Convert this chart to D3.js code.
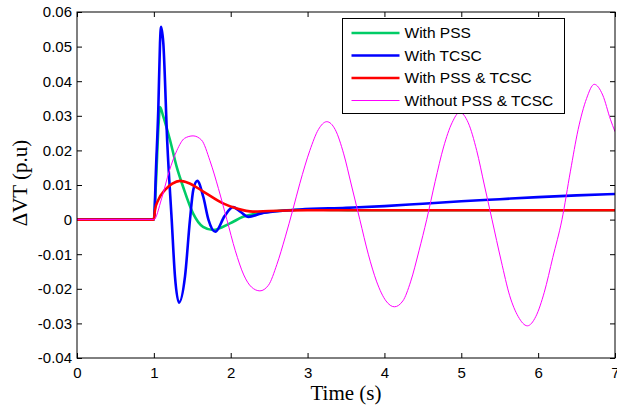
<!DOCTYPE html>
<html>
<head>
<meta charset="utf-8">
<script src="https://cdn.jsdelivr.net/npm/d3@7"></script>
<style>
  html, body { margin: 0; padding: 0; background: #fff; }
  svg { display: block; }
</style>
</head>
<body>
<svg id="chart" width="617" height="407"></svg>
<script>
// time (s) / deltaVT (p.u) samples
const pssT   = [0, 1.0, 1.03, 1.06, 1.08, 1.12, 1.21, 1.3, 1.38, 1.51, 1.64, 1.77, 1.99, 2.16, 2.35, 2.51, 2.73, 3.0, 3.3, 3.6, 4.0, 5.0, 6.0, 7.0];
const pssV   = [0, 0, 0.012, 0.027, 0.0325, 0.030, 0.023, 0.015, 0.0095, 0.0018, -0.0021, -0.003, -0.0011, 0.0008, 0.0018, 0.0023, 0.0027, 0.0029, 0.0028, 0.0027, 0.0027, 0.0027, 0.0027, 0.0027];

const tcscT  = [0, 1.0, 1.03, 1.058, 1.08, 1.093, 1.123, 1.175, 1.232, 1.275, 1.327, 1.405, 1.47, 1.513, 1.565, 1.643, 1.71, 1.80, 1.92, 2.03, 2.13, 2.23, 2.4, 2.6, 2.9, 3.5, 4.0, 4.5, 5.0, 5.5, 6.0, 6.5, 7.0];
const tcscV  = [0, 0, 0.016, 0.032, 0.051, 0.0557, 0.051, 0.022, 0, -0.0165, -0.024, -0.0165, 0, 0.0086, 0.0112, 0.0066, 0, -0.0035, 0.001, 0.0036, 0.0022, 0.0008, 0.0018, 0.0024, 0.0029, 0.0034, 0.0039, 0.0046, 0.0053, 0.0059, 0.0065, 0.007, 0.0074];

const bothT  = [0, 1.0, 1.015, 1.058, 1.145, 1.24, 1.34, 1.45, 1.643, 1.9, 2.08, 2.29, 2.5, 3.0, 4.0, 5.0, 6.0, 7.0];
const bothV  = [0, 0, 0.0028, 0.0057, 0.0086, 0.0104, 0.0112, 0.0106, 0.0081, 0.0047, 0.0032, 0.0023, 0.0025, 0.0027, 0.0027, 0.0027, 0.0027, 0.0027];

const noneT  = [0, 1.0, 1.1, 1.2, 1.3, 1.4, 1.51, 1.62, 1.73, 1.84, 1.95, 2.06, 2.17, 2.27, 2.38, 2.49, 2.6, 2.71, 2.81, 2.9, 3.03, 3.14, 3.25, 3.36, 3.47, 3.57, 3.68, 3.79, 3.9, 4.02, 4.13, 4.24, 4.34, 4.45, 4.55, 4.66, 4.77, 4.88, 4.98, 5.09, 5.2, 5.3, 5.4, 5.52, 5.63, 5.74, 5.86, 5.97, 6.08, 6.19, 6.31, 6.42, 6.52, 6.63, 6.73, 6.84, 6.94, 7.0];
const noneV  = [0, 0, 0.006, 0.014, 0.020, 0.0235, 0.0242, 0.023, 0.017, 0.009, 0, -0.009, -0.016, -0.0195, -0.0206, -0.019, -0.013, -0.005, 0.003, 0.0105, 0.020, 0.026, 0.0283, 0.026, 0.019, 0.010, 0, -0.010, -0.018, -0.0235, -0.0252, -0.0235, -0.018, -0.009, 0, 0.011, 0.021, 0.028, 0.031, 0.028, 0.020, 0.010, 0, -0.012, -0.022, -0.028, -0.0307, -0.028, -0.021, -0.011, 0, 0.014, 0.026, 0.035, 0.0391, 0.036, 0.029, 0.0254];

const seriesNames = ['With PSS', 'With TCSC', 'With PSS & TCSC', 'Without PSS & TCSC'];
const xTicks = [0, 1, 2, 3, 4, 5, 6, 7];
const yTicks = [0.06, 0.05, 0.04, 0.03, 0.02, 0.01, 0, -0.01, -0.02, -0.03, -0.04];

const SERIES = [
  { name: seriesNames[0], t: pssT,  v: pssV,  color: '#00cc66', width: 2.6 },
  { name: seriesNames[1], t: tcscT, v: tcscV, color: '#0000ff', width: 2.6 },
  { name: seriesNames[2], t: bothT, v: bothV, color: '#ff0000', width: 2.6 },
  { name: seriesNames[3], t: noneT, v: noneV, color: '#ff00ff', width: 1 },
];

const svg = d3.select('#chart');
const box = { left: 77, top: 12, right: 615, bottom: 358 };
const SANS = '"Liberation Sans", Arial, sans-serif';
const SERIF = '"Liberation Serif", "Times New Roman", serif';

const x = d3.scaleLinear().domain([0, 7]).range([box.left, box.right]);
const y = d3.scaleLinear().domain([-0.04, 0.06]).range([box.bottom, box.top]);

const fmtY = d => d === 0 ? '0' : d3.format('.2f')(d).replace('−', '-');

function styleAxis(axis, showText) {
  axis.selectAll('path').remove();
  axis.selectAll('line').attr('stroke', '#000').attr('stroke-width', 1);
  axis.selectAll('text').attr('fill', '#000').attr('font-size', 15).attr('font-family', SANS);
  if (!showText) axis.selectAll('text').remove();
}

svg.append('g')
  .attr('transform', `translate(${box.left},0)`)
  .call(d3.axisLeft(y).tickValues(yTicks).tickSizeInner(-5).tickSizeOuter(0).tickPadding(5).tickFormat(fmtY))
  .call(a => styleAxis(a, true));
svg.append('g')
  .attr('transform', `translate(${box.right},0)`)
  .call(d3.axisRight(y).tickValues(yTicks).tickSizeInner(-5).tickSizeOuter(0))
  .call(a => styleAxis(a, false));
svg.append('g')
  .attr('transform', `translate(0,${box.bottom})`)
  .call(d3.axisBottom(x).tickValues(xTicks).tickSizeInner(-5).tickSizeOuter(0).tickPadding(9).tickFormat(d3.format('d')))
  .call(a => styleAxis(a, true));
svg.append('g')
  .attr('transform', `translate(0,${box.top})`)
  .call(d3.axisTop(x).tickValues(xTicks).tickSizeInner(-5).tickSizeOuter(0))
  .call(a => styleAxis(a, false));

svg.append('defs').append('clipPath').attr('id', 'plot-clip')
  .append('rect')
  .attr('x', box.left).attr('y', box.top)
  .attr('width', box.right - box.left).attr('height', box.bottom - box.top);

const line = d3.line()
  .x(d => x(d[0]))
  .y(d => y(d[1]))
  .curve(d3.curveMonotoneX);

const plot = svg.append('g').attr('clip-path', 'url(#plot-clip)');
SERIES.forEach(s => {
  plot.append('path')
    .datum(s.t.map((t, i) => [t, s.v[i]]))
    .attr('fill', 'none')
    .attr('stroke', s.color)
    .attr('stroke-width', s.width)
    .attr('stroke-linejoin', 'round')
    .attr('d', line);
});

// frame
svg.append('rect')
  .attr('x', box.left).attr('y', box.top)
  .attr('width', box.right - box.left).attr('height', box.bottom - box.top)
  .attr('fill', 'none').attr('stroke', '#000').attr('stroke-width', 1);

// legend
const legend = svg.append('g').attr('transform', 'translate(342.5,18.5)');
legend.append('rect')
  .attr('width', 222).attr('height', 95)
  .attr('fill', '#fff').attr('stroke', '#000').attr('stroke-width', 1);
SERIES.forEach((s, i) => {
  const ly = 14.5 + i * 22.5;
  legend.append('line')
    .attr('x1', 9).attr('x2', 57).attr('y1', ly).attr('y2', ly)
    .attr('stroke', s.color).attr('stroke-width', s.width);
  legend.append('text')
    .attr('x', 62).attr('y', ly).attr('dy', '0.35em')
    .attr('font-family', SANS).attr('font-size', 15.5).attr('fill', '#000')
    .text(s.name);
});

// axis titles
svg.append('text')
  .attr('x', (box.left + box.right) / 2).attr('y', 400)
  .attr('text-anchor', 'middle')
  .attr('font-family', SERIF).attr('font-size', 21).attr('fill', '#000')
  .text('Time (s)');
svg.append('text')
  .attr('transform', 'translate(27,183) rotate(-90)')
  .attr('text-anchor', 'middle')
  .attr('font-family', SERIF).attr('font-size', 21).attr('fill', '#000')
  .text('ΔVT (p.u)');
</script>
</body>
</html>
